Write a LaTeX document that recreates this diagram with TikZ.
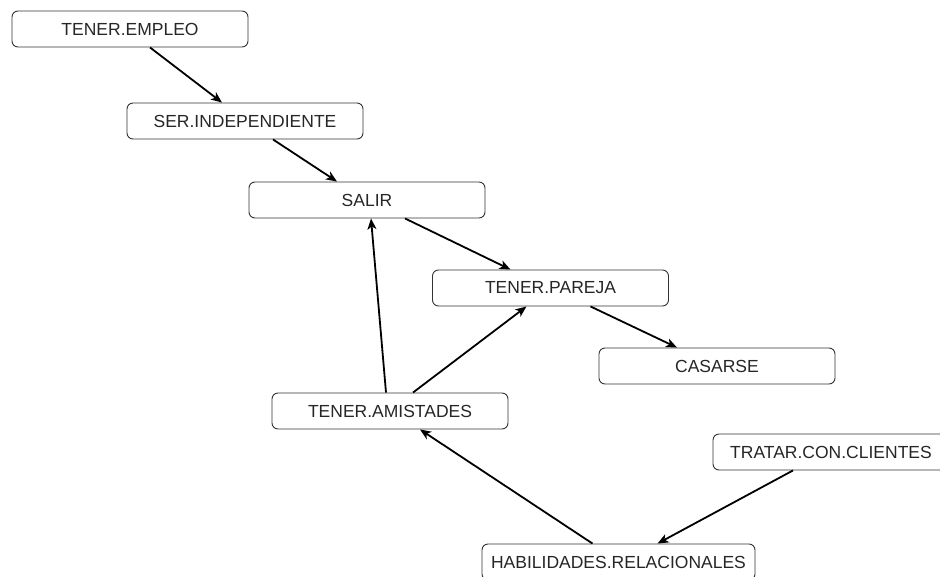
\documentclass[tikz,border=0pt]{standalone}
\usepackage{fontspec}
\setmainfont{Liberation Sans}
\usetikzlibrary{arrows.meta}
\begin{document}
\begin{tikzpicture}[x=1pt,y=-1pt,
  box/.style={draw=black!80,line width=0.9pt,rounded corners=6pt,minimum width=236pt,minimum height=36pt,inner sep=0pt,font=\fontsize{17.5}{20}\selectfont,text=black!85},
  arr/.style={line width=1.8pt,-{Stealth[length=11pt,width=9pt,inset=3pt]}}]
\useasboundingbox (0,0) rectangle (940,576);
\clip (0,0) rectangle (940,576);
\node[box] (te) at (130,29) {TENER.EMPLEO};
\node[box] (si) at (245,121) {SER.INDEPENDIENTE};
\node[box] (sa) at (367,200) {SALIR};
\node[box] (tp) at (550.5,288) {TENER.PAREJA};
\node[box] (ca) at (717,366) {CASARSE};
\node[box] (ta) at (390,411) {TENER.AMISTADES};
\node[box] (tc) at (831,452) {TRATAR.CON.CLIENTES};
\node[box,minimum width=273pt] (hr) at (618.5,562) {HABILIDADES.RELACIONALES};
\draw[arr] ([xshift=20pt]te.south) -- ([xshift=-23pt]si.north);
\draw[arr] ([xshift=28pt]si.south) -- ([xshift=-30pt]sa.north);
\draw[arr] ([xshift=38pt]sa.south) -- ([xshift=-40pt]tp.north);
\draw[arr] ([xshift=40pt]tp.south) -- ([xshift=-40pt]ca.north);
\draw[arr] ([xshift=-4pt]ta.north) -- ([xshift=4pt]sa.south);
\draw[arr] ([xshift=23pt]ta.north) -- ([xshift=-24pt]tp.south);
\draw[arr] ([xshift=-26pt]hr.north) -- ([xshift=30pt]ta.south);
\draw[arr] ([xshift=-38pt]tc.south) -- ([xshift=39pt]hr.north);
\end{tikzpicture}
\end{document}
